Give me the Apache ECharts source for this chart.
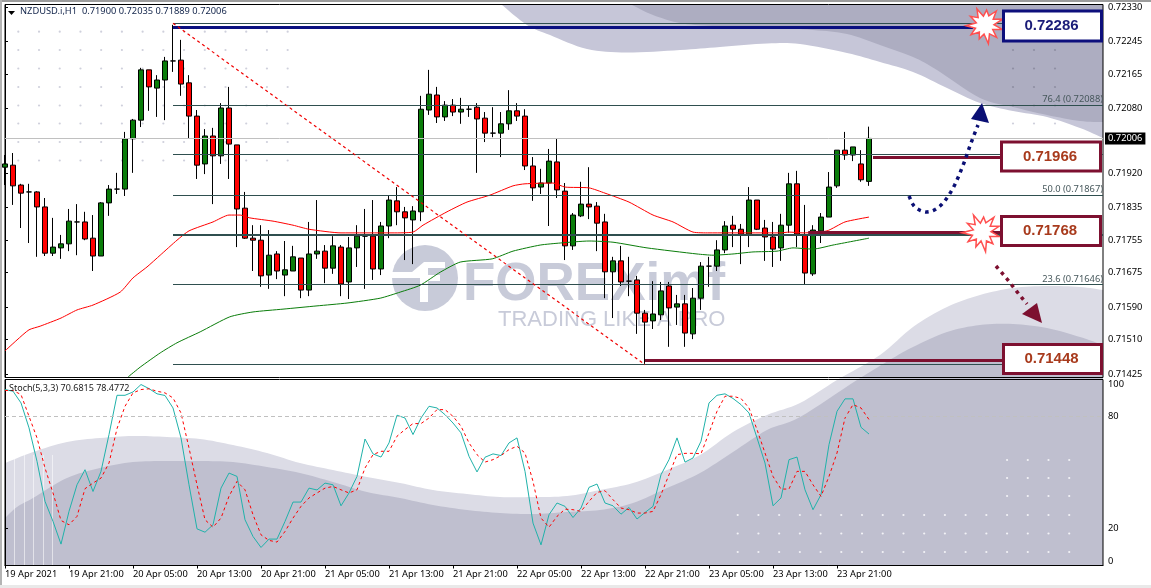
<!DOCTYPE html>
<html><head><meta charset="utf-8">
<style>html,body{margin:0;padding:0;background:#fff}#c{width:1151px;height:588px}</style>
<script src="https://cdn.jsdelivr.net/npm/echarts@6/dist/echarts.min.js"></script>
</head><body><div id="c"></div>
<script>
// ---- price data, in 0.00001 units ----
const opens=[71935,71940,71891,71874,71874,71837,71723,71736,71746,71800,71800,71760,71716,71847,71881,71881,72005,72051,72175,72130,72150,72197,72199,72143,72061,71943,72012,71963,72081,71990,71834,71760,71755,71669,71721,71669,71679,71711,71632,71721,71728,71686,71738,71652,71736,71765,71765,71684,71790,71852,71825,71805,71825,72076,72113,72059,72088,72071,72078,72083,72056,72019,72019,72042,72074,72061,71938,71886,71896,71948,71876,71741,71815,71844,71839,71800,71677,71704,71654,71657,71575,71556,71571,71642,71590,71598,71524,71612,71691,71691,71731,71792,71782,71770,71854,71785,71763,71736,71792,71894,71768,71672,71778,71812,71889,71977,71965,71943,71900];
const closes=[71943,71889,71871,71874,71837,71723,71738,71746,71802,71800,71758,71716,71847,71881,71881,72005,72051,72175,72133,72150,72197,72197,72140,72061,71940,72012,71963,72081,71992,71832,71760,71755,71667,71718,71679,71682,71714,71632,71721,71728,71686,71741,71647,71736,71765,71765,71684,71790,71854,71825,71810,71827,72078,72115,72059,72088,72071,72078,72078,72054,72019,72019,72042,72074,72061,71938,71884,71896,71950,71879,71741,71817,71844,71837,71797,71677,71704,71652,71654,71575,71553,71573,71630,71588,71598,71526,71612,71691,71691,71731,71790,71782,71770,71854,71782,71763,71733,71792,71894,71770,71674,71780,71812,71886,71977,71965,71985,71904,72006];
const lows=[71891,71842,71785,71748,71714,71716,71716,71709,71728,71718,71755,71679,71716,71815,71869,71864,71921,72034,72074,72059,72051,72170,72111,72007,71906,71918,71844,71943,71906,71738,71758,71679,71640,71635,71659,71617,71679,71612,71617,71709,71649,71672,71617,71610,71689,71635,71657,71669,71760,71792,71706,71696,71802,72064,72044,72049,72061,72042,72059,71921,71997,72009,71960,72027,72049,71928,71852,71869,71790,71859,71706,71731,71812,71807,71728,71612,71563,71642,71617,71524,71450,71536,71558,71492,71546,71492,71511,71583,71640,71679,71723,71738,71696,71738,71780,71704,71689,71704,71773,71738,71647,71667,71748,71812,71884,71953,71950,71899,71889];
const highs=[71965,71970,71894,71894,71876,71859,71810,71768,71832,71844,71825,71817,71849,71891,71921,72022,72054,72180,72175,72162,72207,72286,72249,72162,72076,72029,72032,72093,72133,71990,71874,71792,71792,71780,71728,71753,71741,71711,71800,71854,71743,71765,71743,71763,71792,71832,71854,71800,71864,71886,71837,71839,72111,72175,72133,72098,72103,72106,72088,72093,72071,72083,72071,72125,72093,72078,71960,71931,71980,72005,71896,71822,71899,71935,71849,71820,71714,71741,71714,71667,71583,71654,71652,71652,71620,71620,71637,71701,71714,71755,71802,71815,71795,71886,71854,71805,71800,71820,71921,71926,71842,71792,71822,71923,71977,72022,71985,71977,72035];
// moving averages: bar position and price read at the visible bends
const redMaBars=[0,1.5,3,4.4,7,9,11,14.4,16,17.75,19.4,21.5,23,26,28,29.4,30.6,33.5,36,38,42,48.5,51,52.25,55.25,57.75,60.6,63.5,65,68.5,70,73,75,78,81,83.5,86,88,93,97,98,99.75,102.75,105,108];
const redMaVals=[71482,71509,71534,71543,71563,71583,71595,71627,71662,71689,71718,71755,71778,71800,71817,71817,71810,71802,71792,71782,71773,71773,71775,71792,71825,71849,71866,71889,71894,71896,71886,71884,71871,71849,71817,71800,71775,71773,71773,71773,71775,71773,71778,71800,71812];
const greenMaBars=[15.4,16.9,19.4,21.5,24.4,28.1,31,34.75,39,42.75,46.9,49.4,51.9,54.4,56.9,60.9,63.5,66.9,69.4,73,76,80.25,86.5,88.5,91,93.5,96.5,98.5,101,103.5,108];
const greenMaVals=[71418,71442,71477,71502,71529,71566,71578,71585,71593,71600,71612,71627,71644,71676,71701,71709,71728,71743,71748,71753,71750,71736,71721,71718,71721,71726,71728,71736,71733,71743,71760];
// stochastic
const stochK=[94.6,93.7,87.4,74.0,56.0,34.5,23.7,11.5,29.1,43.4,51.5,39.8,50.6,70.4,91.5,91.5,93.3,97.3,95.1,92.3,91.4,84.7,68.6,43.4,19.7,17.9,21.9,41.6,49.7,47.9,24.6,15.6,9.7,14.2,14.2,23.7,34.1,34.1,41.6,40.6,44.3,43.4,32.1,39.0,47.9,68.0,60.0,58.3,65.9,80.8,79.3,70.4,79.3,85.6,84.7,81.1,76.6,71.3,58.7,50.3,58.2,60.0,59.1,65.9,68.6,50.6,22.8,11.1,27.3,33.6,31.8,25.8,30.9,42.0,43.8,33.6,32.1,27.6,31.2,25.0,28.5,31.8,48.8,56.9,68.6,55.6,57.8,66.8,87.4,91.5,92.3,89.8,86.5,82.0,68.6,55.1,32.1,36.3,56.9,58.3,40.7,30.0,38.1,65.0,82.9,89.6,89.6,74.3,70.68];
const stochD=[94.1,94.1,91.9,80.2,68.6,52.4,39.0,24.2,21.9,26.4,41.3,44.3,47.0,55.1,73.6,85.6,92.8,94.6,95.0,93.7,92.8,90.1,82.0,63.2,43.4,24.6,20.6,25.5,37.2,45.2,40.7,27.3,16.5,13.5,12.6,18.3,25.5,31.8,36.3,39.0,41.6,42.5,40.7,39.0,40.7,52.4,59.6,61.4,61.4,69.5,73.1,76.3,76.3,79.3,83.8,83.8,80.2,74.9,65.9,59.6,55.6,56.9,59.1,62.3,64.1,60.5,45.2,25.5,20.6,26.4,30.3,30.0,29.1,34.5,39.3,40.2,35.4,30.9,30.0,28.2,28.2,29.1,38.1,48.8,59.6,60.3,60.3,60.1,71.3,82.9,91.0,91.0,89.8,84.7,73.1,60.5,47.9,41.1,41.1,50.6,50.6,43.4,37.2,47.9,60.5,79.3,86.5,84.7,78.48];
// axis text
const timeLabels=['19 Apr 2021','19 Apr 21:00','20 Apr 05:00','20 Apr 13:00','20 Apr 21:00','21 Apr 05:00','21 Apr 13:00','21 Apr 21:00','22 Apr 05:00','22 Apr 13:00','22 Apr 21:00','23 Apr 05:00','23 Apr 13:00','23 Apr 21:00'];
const priceTicks=[0.72330,0.72245,0.72165,0.72080,0.71920,0.71835,0.71755,0.71675,0.71590,0.71510,0.71425];
const stochTicks=[0,20,80,100];
// Fibonacci levels: ratio text (empty when hidden), price, line width
const fibLevels=[['',0.72290,1],['76.4 (0.72088)',0.72088,1],['',0.71966,1],['50.0 (0.71867)',0.71867,1],['',0.71768,2],['23.6 (0.71646)',0.71646,1],['',0.71448,1]];
const lastPrice=0.72006;
const headline='NZDUSD.i,H1  0.71900 0.72035 0.71889 0.72006';
const stochTitle='Stoch(5,3,3) 70.6815 78.4772';

const BLUE='#0d0f7c', MAROON='#7d1030', TXTRED='#a83a1c';
const XMAX=137.25, FIBSTART=21;
const UI='"Noto Sans"', ARIAL='"Liberation Sans"';

function P(v){return v/100000;}
const candle=opens.map((o,i)=>[i,P(o),P(closes[i]),P(lows[i]),P(highs[i])]);
const seg=(x0,y,x1,color,width,label)=>[
 {coord:[x0,y],lineStyle:{color,width,type:'solid',opacity:1},label:label?{show:true,formatter:label,position:'insideEndTop',distance:[0,1],color:'#47585c',fontFamily:UI,fontSize:9.3}:{show:false}},
 {coord:[x1,y]}];
const levelLines=[
 ...fibLevels.map(f=>seg(FIBSTART,f[1],XMAX,'#2f4f4f',f[2],f[0])),
 seg(FIBSTART,0.72281,121,'#0a0f80',3),
 seg(108.5,0.71960,124.4,MAROON,3),
 seg(100.4,0.71774,124.4,MAROON,3),
 seg(80,0.71459,125,MAROON,3),
 [{coord:[FIBSTART,0.72290],lineStyle:{color:'#f00000',width:1.2,type:[3,3],opacity:1},label:{show:false}},{coord:[80,0.71448]}],
 [{coord:[0,lastPrice],lineStyle:{color:'#c0c0c0',width:1,type:'solid'},
   label:{show:true,position:'end',distance:2,formatter:lastPrice.toFixed(5),color:'#fff',backgroundColor:'#000',padding:[2,3,1,3],fontFamily:UI,fontSize:9.3}},{coord:[XMAX,lastPrice]}]
];

// ---- decorative background (watermark) in page pixels ----
function spline(p){const o=[];for(let i=0;i<p.length-1;i++){const a=p[Math.max(i-1,0)],b=p[i],c=p[i+1],d=p[Math.min(i+2,p.length-1)];
 for(let k=0;k<8;k++){const t=k/8,t2=t*t,t3=t2*t;o.push([0,1].map(j=>0.5*(2*b[j]+(c[j]-a[j])*t+(2*a[j]-5*b[j]+4*c[j]-d[j])*t2+(3*b[j]-a[j]-3*c[j]+d[j])*t3)));}}
 o.push(p[p.length-1]);return o;}
const topLightEdge=[[502,5],[527,25],[550,35],[587,49],[627,52.5],[680,50],[720,47],[767,43.5],[800,44],[847,53],[880,62],[913,72],[947,88],[980,103],[1013,111],[1047,117],[1080,128],[1103,138]];
const topDarkEdge=[[632,5],[653,15],[680,23],[713,26],[767,27],[813,30],[847,34],[880,45],[913,57],[937,70],[980,98],[1013,107],[1047,115],[1080,121],[1103,122]];
const lowLightEdge=[[5,463],[33,452],[67,442],[100,438],[133,436],[167,437],[200,439],[233,445],[267,453],[300,463],[333,470],[367,477],[400,483],[433,490],[467,494],[500,497],[533,497],[567,496],[600,490],[633,483],[667,470],[700,455],[733,432],[767,415],[800,403],[837,380],[880,355],[913,327],[947,307],[980,295],[1013,288],[1047,286],[1080,287],[1103,290]];
const lowDarkEdge=[[5,518],[17,507],[33,498],[67,478],[100,468],[133,462],[167,461],[200,461],[233,462],[267,467],[300,473],[333,482],[367,492],[400,498],[433,505],[467,510],[500,513],[533,514],[567,512],[600,510],[633,503],[667,488],[700,473],[733,452],[767,430],[800,417],[857,380],[893,358],[913,347],[947,332],[980,325],[1013,324],[1047,328],[1080,337],[1103,345]];
const bg=[];
const poly=(pts,fill,z)=>bg.push({type:'polygon',silent:true,z,shape:{points:pts},style:{fill}});
poly([...spline(topLightEdge),[1103,5]],'#c6c6d8',-9);
poly([...spline(topDarkEdge),[1103,5]],'#adadc1',-8);
poly([...spline(lowLightEdge),[1103,566],[5,566]],'#dcdce6',-9);
poly([...spline(lowDarkEdge),[1103,566],[5,566]],'#bfbfcf',-8);
[14,24,33,43,52].forEach(x=>bg.push({type:'rect',silent:true,z:-7,shape:{x,y:455,width:1,height:111},style:{fill:'rgba(255,255,255,0.55)'}}));
const dot=(x,y,fill)=>bg.push({type:'circle',silent:true,z:-6,shape:{cx:x,cy:y,r:1.1},style:{fill}});
const gridYs=[31.7,50,68.5,87,105.5,123.5,142,160.5];
for(let c=0;c<14;c++)gridYs.forEach(y=>dot(18.3+20.72*c,y,'#cfd0dc'));
[1013,1034,1055].forEach(x=>[50,68.5,87,105.5,123.5].forEach(y=>dot(x,y,y<110?'#8f8fa3':'#cfd0dc')));
for(let c=0;c<17;c++){const x=737.7+20.72*c;[515,533.5,552].forEach(y=>dot(x,y,'#f2f2f6'));
 if(x>1005)[460,478,496].forEach(y=>dot(x,y,'#f2f2f6'));}
// logo
const WM='#c8cbd9';
bg.push({type:'circle',silent:true,z:-6,shape:{cx:425,cy:278,r:33},style:{fill:WM}});
bg.push({type:'polygon',silent:true,z:-5,shape:{points:[[392,272],[412,272],[424,262],[445,262],[445,268],[428,268],[428,275],[440,275],[440,281],[428,281],[428,302],[420,302],[420,278],[392,278]]},style:{fill:'#fff'}});
bg.push({type:'text',silent:true,z:-5,x:463,y:285,style:{text:'FOREXimf',font:'bold 53px '+ARIAL,fill:WM,textVerticalAlign:'middle'}});
bg.push({type:'text',silent:true,z:-5,x:498,y:320,style:{text:'TRADING LIKE A PRO',font:'22px '+ARIAL,fill:WM,textVerticalAlign:'middle'}});

// ---- annotations ----
const fg=[];
function box(x,y,w,h,color,txt,textColor){
 fg.push({type:'rect',z:50,shape:{x:x+1.5,y:y+1.5,width:w-3,height:h-3},style:{fill:'#fff',stroke:color,lineWidth:3}});
 fg.push({type:'text',z:51,x:x+w/2-1,y:y+h/2,style:{text:txt,font:'bold 15px '+ARIAL,fill:textColor,textAlign:'center',textVerticalAlign:'middle'}});}
box(1002,9.5,101,33,BLUE,'0.72286','#1a1c78');
box(1000,140.5,102,32,MAROON,'0.71966',TXTRED);
box(1000,215,102,32,MAROON,'0.71768',TXTRED);
box(1002,343,101,32,MAROON,'0.71448',TXTRED);
function burst(cx,cy,rad){const pts=rad.map((r,i)=>{const a=i/rad.length*2*Math.PI+0.25;return[cx+r*Math.cos(a),cy+r*Math.sin(a)];});
 fg.push({type:'polygon',z:49,shape:{points:pts},style:{fill:'#fff',stroke:'#ff5050',lineWidth:1.5}});}
burst(985,25,[18,9,17,10,19,9,15,9,17,10,19,9,17,10,18,9,15,10,18,10,19,9]);
burst(982,232,[18,9,16,10,20,9,16,9,17,10,20,9,17,10,19,9,15,10,19,10,18,9]);
function dotted(pts,color){fg.push({type:'polyline',z:48,silent:true,shape:{points:spline(pts)},style:{stroke:color,lineWidth:3.5,lineDash:[3.5,4.5],fill:null}});}
dotted([[909,196],[915,207],[927,212],[940,206],[952,190],[962,168],[971,143],[978,125]],'#0a0f74');
dotted([[996,266],[1007,279],[1018,293],[1027,304]],MAROON);
fg.push({type:'polygon',z:48,silent:true,shape:{points:[[982,103],[971,119],[989,123]]},style:{fill:'#0a0f74'}});
fg.push({type:'polygon',z:48,silent:true,shape:{points:[[1037,303],[1022,314],[1042,323]]},style:{fill:MAROON}});
fg.push({type:'polygon',z:60,silent:true,shape:{points:[[8,11],[15,11],[11.5,15]]},style:{fill:'#000'}});
fg.push({type:'text',z:60,silent:true,x:9,y:388,style:{text:stochTitle,font:'9px '+UI,fill:'#222',textVerticalAlign:'middle'}});
// screenshot window edge
fg.push({type:'rect',z:60,silent:true,shape:{x:0,y:0,width:1151,height:2},style:{fill:'#9c9c9c'}});
fg.push({type:'rect',z:60,silent:true,shape:{x:0,y:0,width:2,height:588},style:{fill:'#b4b4b4'}});
fg.push({type:'rect',z:60,silent:true,shape:{x:0,y:585,width:1151,height:3},style:{fill:'#e9e9e9'}});

const tickBars=timeLabels.map((_,i)=>i*8);
const chart=echarts.init(document.getElementById('c'),null,{renderer:'canvas'});
chart.setOption({
 animation:false,backgroundColor:'#fff',
 title:{text:headline,left:20,top:7,itemGap:0,padding:0,textStyle:{fontFamily:UI,fontSize:9.3,fontWeight:'normal',color:'#12244a'}},
 graphic:{elements:[...bg,...fg]},
 grid:[
  {left:5,top:4.5,width:1098,height:373,show:true,borderColor:'#000',borderWidth:1,backgroundColor:'transparent'},
  {left:5,top:379.5,width:1098,height:186,show:true,borderColor:'#000',borderWidth:1,backgroundColor:'transparent'}],
 xAxis:[
  {type:'value',gridIndex:0,min:0,max:XMAX,interval:8,axisLabel:{show:false},axisTick:{show:false},axisLine:{show:false},splitLine:{show:false}},
  {type:'value',gridIndex:1,min:0,max:XMAX,interval:8,splitLine:{show:false},axisLine:{show:true,lineStyle:{color:'#000'}},
   axisTick:{show:true,length:3,inside:false,customValues:tickBars,lineStyle:{color:'#000'}},
   axisLabel:{show:true,customValues:tickBars,margin:4,align:'left',fontFamily:UI,fontSize:9.3,color:'#000',formatter:v=>timeLabels[v/8]||''}}],
 yAxis:[
  {type:'value',gridIndex:0,position:'right',min:0.714164,max:0.723362,scale:true,splitLine:{show:false},axisLine:{show:true,lineStyle:{color:'#000'}},
   axisTick:{show:true,length:3,customValues:priceTicks,lineStyle:{color:'#000'}},
   axisLabel:{show:true,customValues:priceTicks,margin:5,fontFamily:UI,fontSize:9.3,color:'#000',formatter:v=>v.toFixed(5)}},
  {type:'value',gridIndex:1,position:'right',min:0,max:100,splitLine:{show:false},axisLine:{show:true,lineStyle:{color:'#000'}},
   axisTick:{show:true,length:3,customValues:stochTicks,lineStyle:{color:'#000'}},
   axisLabel:{show:true,customValues:stochTicks,margin:5,fontFamily:UI,fontSize:9.3,color:'#000',verticalAlignMinLabel:'bottom',verticalAlignMaxLabel:'top'}}],
 series:[
  {type:'candlestick',name:'NZDUSD.i,H1',xAxisIndex:0,yAxisIndex:0,barWidth:5,data:candle,encode:{x:0,y:[1,2,3,4]},
   itemStyle:{color:'#0a7d0a',color0:'#ff0000',borderColor:'#000',borderColor0:'#000',borderColorDoji:'#000',borderWidth:1}},
  {type:'line',name:'MA red',xAxisIndex:0,yAxisIndex:0,showSymbol:false,data:redMaBars.map((b,i)=>[b,P(redMaVals[i])]),lineStyle:{color:'#ff0000',width:1},smooth:0.2,silent:true},
  {type:'line',name:'MA green',xAxisIndex:0,yAxisIndex:0,showSymbol:false,data:greenMaBars.map((b,i)=>[b,P(greenMaVals[i])]),lineStyle:{color:'#0a7d0a',width:1},smooth:0.2,silent:true,
   markLine:{silent:true,symbol:'none',animation:false,data:levelLines}},
  {type:'line',name:'%K',xAxisIndex:1,yAxisIndex:1,showSymbol:false,data:stochK.map((v,i)=>[i,v]),lineStyle:{color:'#20b2aa',width:1},silent:true,
   markLine:{silent:true,symbol:'none',animation:false,label:{show:false},lineStyle:{color:'#c0c0c0',type:[4,3],width:1},data:[{yAxis:80}]}},
  {type:'line',name:'%D',xAxisIndex:1,yAxisIndex:1,showSymbol:false,data:stochD.map((v,i)=>[i,v]),lineStyle:{color:'#ff0000',width:1,type:[3,3]},silent:true}
 ]
});
</script></body></html>
